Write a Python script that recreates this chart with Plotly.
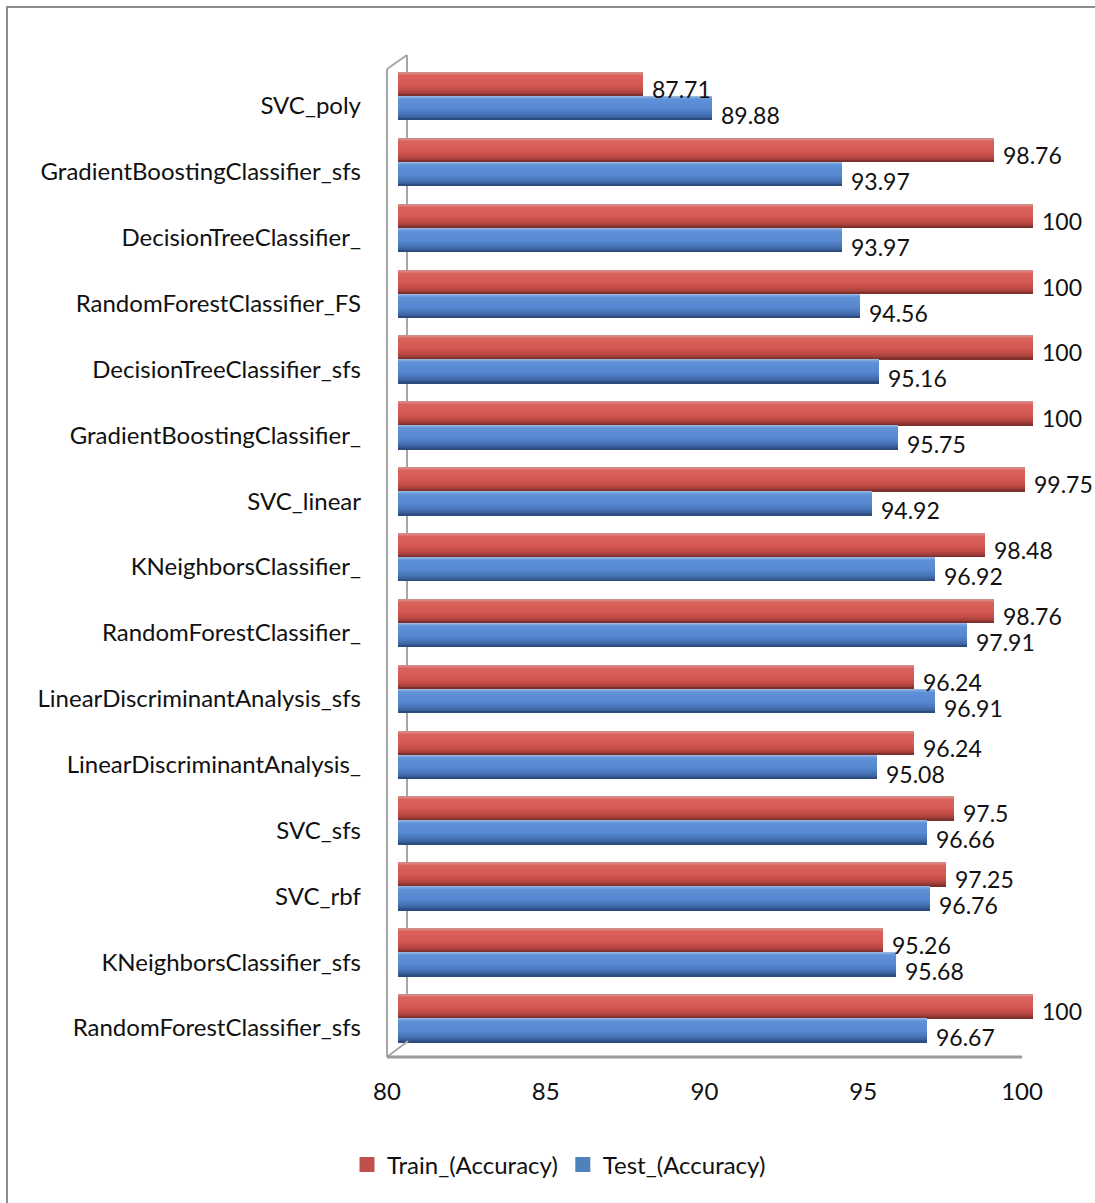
import plotly.graph_objects as go

# Model names, listed top to bottom
models = [
    "SVC_poly",
    "GradientBoostingClassifier_sfs",
    "DecisionTreeClassifier_",
    "RandomForestClassifier_FS",
    "DecisionTreeClassifier_sfs",
    "GradientBoostingClassifier_",
    "SVC_linear",
    "KNeighborsClassifier_",
    "RandomForestClassifier_",
    "LinearDiscriminantAnalysis_sfs",
    "LinearDiscriminantAnalysis_",
    "SVC_sfs",
    "SVC_rbf",
    "KNeighborsClassifier_sfs",
    "RandomForestClassifier_sfs",
]
train_acc = [87.71, 98.76, 100, 100, 100, 100, 99.75, 98.48, 98.76,
             96.24, 96.24, 97.5, 97.25, 95.26, 100]
test_acc = [89.88, 93.97, 93.97, 94.56, 95.16, 95.75, 94.92, 96.92, 97.91,
            96.91, 95.08, 96.66, 96.76, 95.68, 96.67]
x_ticks = [80, 85, 90, 95, 100]

W, H = 1095, 1203
FONT = "Lato"
FS = 24
LABEL_FS = 23
TXT = "#111111"

# plot area in pixels
L_PX, R_PX = 387, 1033
T_PX, B_PX = 63, 1061
PW, PH = R_PX - L_PX, B_PX - T_PX

# front plane (axis labels) and back plane (bars) of the pseudo-3D frame
FRONT_X = (387, 1022)
FRONT_Y = (73, 1061)
BACK_X = (398, 1033)
BACK_Y = (63, 1051)


def xdom(a, b):
    return [(a - L_PX) / PW, (b - L_PX) / PW]


def ydom(top, bottom):
    return [(B_PX - bottom) / PH, (B_PX - top) / PH]


def px_x(p):
    return (p - L_PX) / PW


def px_y(p):
    return (B_PX - p) / PH


n = len(models)
unit = (BACK_Y[1] - BACK_Y[0]) / n  # pixels per category
u = 1.0 / unit
idx = list(range(n))
BAR_PX = 24


def hex_to_rgb(h):
    h = h.lstrip("#")
    return tuple(int(h[i:i + 2], 16) for i in (0, 2, 4))


def shade_rows(stops):
    """Per-pixel-row colours of a cylinder, from (row, colour) stops."""
    rows = []
    for r in range(BAR_PX):
        for (r0, c0), (r1, c1) in zip(stops[:-1], stops[1:]):
            if r0 <= r <= r1:
                t = 0 if r1 == r0 else (r - r0) / (r1 - r0)
                a, b = hex_to_rgb(c0), hex_to_rgb(c1)
                rgb = tuple(round(a[i] + (b[i] - a[i]) * t) for i in range(3))
                rows.append("rgb(%d,%d,%d)" % rgb)
                break
    return rows


red_rows = shade_rows([(0, "#C98E8B"), (1, "#E0817C"), (3, "#DA625D"),
                       (12, "#D55953"), (17, "#C44D48"), (21, "#A23E3A"),
                       (23, "#7E302D")])
blue_rows = shade_rows([(0, "#96B6E0"), (1, "#7BA5DF"), (3, "#5E91D8"),
                        (12, "#5788D1"), (17, "#4A78BC"), (21, "#3A619D"),
                        (23, "#2C4C7E")])

fig = go.Figure()

# empty trace so the front axes (labels and ticks) are drawn
fig.add_trace(go.Scatter(x=[], y=[], xaxis="x", yaxis="y",
                         showlegend=False, hoverinfo="skip"))


def add_series(values, rows, top_px, name, legend_color):
    # each row layer spans from its row to the bar bottom, so later layers
    # overwrite the lower part and every pixel row keeps its own colour
    for r, color in enumerate(rows):
        fig.add_trace(go.Bar(
            x=values, y=idx, orientation="h",
            offset=(top_px + r) * u, width=(BAR_PX - r) * u,
            marker=dict(color=color, line=dict(width=0)),
            xaxis="x2", yaxis="y2",
            name=name, showlegend=False,
            hoverinfo="x+name" if r == 0 else "skip",
        ))
    fig.add_trace(go.Scatter(
        x=[None], y=[None], mode="markers", name=name,
        marker=dict(symbol="square", size=15, color=legend_color),
        xaxis="x2", yaxis="y2", showlegend=True,
    ))


add_series(train_acc, red_rows, -BAR_PX, "Train_(Accuracy)", "#C0504D")
add_series(test_acc, blue_rows, 0, "Test_(Accuracy)", "#4F81BD")


def fmt(v):
    return f"{v:g}"


annotations = []
for i, (tr, te) in enumerate(zip(train_acc, test_acc)):
    annotations.append(dict(x=tr, y=i, xref="x2", yref="y2", text=fmt(tr),
                            showarrow=False, xanchor="left", yanchor="middle",
                            xshift=8, yshift=7, borderpad=0,
                            font=dict(family=FONT, size=LABEL_FS, color=TXT)))
    annotations.append(dict(x=te, y=i, xref="x2", yref="y2", text=fmt(te),
                            showarrow=False, xanchor="left", yanchor="middle",
                            xshift=8, yshift=-19, borderpad=0,
                            font=dict(family=FONT, size=LABEL_FS, color=TXT)))

wall = "#A6A6A6"
shapes = [
    # outer chart border
    dict(type="rect", xref="paper", yref="paper",
         x0=px_x(7), x1=px_x(W + 20), y0=px_y(H + 20), y1=px_y(7),
         line=dict(color="#8C8C8C", width=2), layer="below"),
    # back wall edge
    dict(type="line", xref="paper", yref="paper",
         x0=px_x(407), x1=px_x(407), y0=px_y(1041), y1=px_y(55),
         line=dict(color=wall, width=2), layer="below"),
    # front wall edge
    dict(type="line", xref="paper", yref="paper",
         x0=px_x(387), x1=px_x(387), y0=px_y(1057), y1=px_y(69),
         line=dict(color=wall, width=2)),
    dict(type="line", xref="paper", yref="paper",
         x0=px_x(387), x1=px_x(407), y0=px_y(69), y1=px_y(55),
         line=dict(color=wall, width=2)),
    dict(type="line", xref="paper", yref="paper",
         x0=px_x(387), x1=px_x(408), y0=px_y(1057), y1=px_y(1041),
         line=dict(color=wall, width=2)),
    # floor edge
    dict(type="line", xref="paper", yref="paper",
         x0=px_x(387), x1=px_x(1022), y0=px_y(1057), y1=px_y(1057),
         line=dict(color="#9A9A9A", width=3)),
]

fig.update_layout(
    width=W, height=H,
    margin=dict(l=L_PX, r=W - R_PX, t=T_PX, b=H - B_PX, pad=0),
    paper_bgcolor="white", plot_bgcolor="rgba(0,0,0,0)",
    barmode="overlay", bargap=0,
    font=dict(family=FONT, size=FS, color=TXT),
    xaxis=dict(domain=xdom(*FRONT_X), range=[80, 100], tickvals=x_ticks,
               showgrid=False, zeroline=False, showline=False, ticks="",
               ticklabelstandoff=14, anchor="y",
               tickfont=dict(family=FONT, size=FS, color=TXT)),
    yaxis=dict(domain=ydom(*FRONT_Y), range=[n - 0.5, -0.5], tickvals=idx,
               ticktext=models, showgrid=False, zeroline=False,
               showline=False, ticks="", ticklabelstandoff=25, anchor="x",
               tickfont=dict(family=FONT, size=FS, color=TXT)),
    xaxis2=dict(domain=xdom(*BACK_X), range=[80, 100], visible=False,
                anchor="y2"),
    yaxis2=dict(domain=ydom(*BACK_Y), range=[n - 0.5, -0.5], visible=False,
                anchor="x2"),
    legend=dict(orientation="h", x=px_x(559), y=px_y(1165),
                xanchor="center", yanchor="middle",
                font=dict(family=FONT, size=FS, color=TXT),
                bgcolor="rgba(0,0,0,0)", itemwidth=30),
    annotations=annotations,
    shapes=shapes,
)

fig.write_html("out.html")
